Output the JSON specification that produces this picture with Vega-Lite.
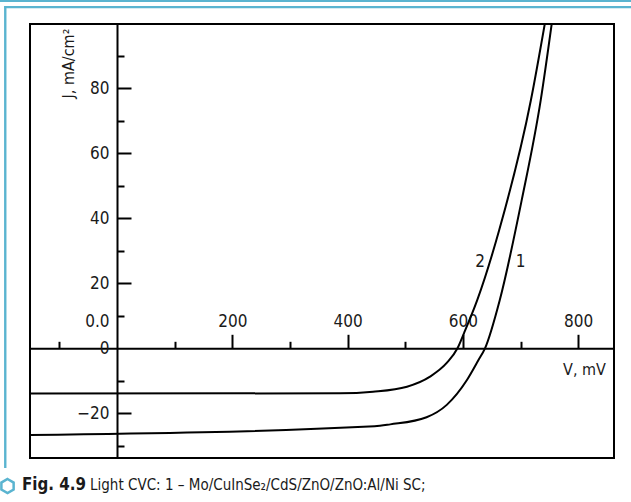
{
  "$schema": "https://vega.github.io/schema/vega-lite/v6.json",
  "autosize": "none",
  "width": 584,
  "height": 434,
  "padding": {"left": 30, "top": 24, "right": 17, "bottom": 44},
  "background": "#ffffff",
  "config": {
    "font": "'DejaVu Sans Condensed', Roboto, sans-serif",
    "view": {"stroke": "#000000", "strokeWidth": 2},
    "axis": {"labelFont": "'DejaVu Sans Condensed', Roboto, sans-serif", "titleFont": "'DejaVu Sans Condensed', Roboto, sans-serif", "labelColor": "#1a1a1a", "titleColor": "#1a1a1a", "grid": false},
    "text": {"font": "'DejaVu Sans Condensed', Roboto, sans-serif"}
  },
  "datasets": {
    "curves": [
      {"curve": "1", "V": -151, "J": -26.7},
      {"curve": "1", "V": 447, "J": -24.0},
      {"curve": "1", "V": 474, "J": -23.4},
      {"curve": "1", "V": 537, "J": -21.2},
      {"curve": "1", "V": 572, "J": -17.4},
      {"curve": "1", "V": 607, "J": -9.75},
      {"curve": "1", "V": 627, "J": -3.6},
      {"curve": "1", "V": 638.3, "J": 0},
      {"curve": "1", "V": 664, "J": 14.9},
      {"curve": "1", "V": 702, "J": 45.6},
      {"curve": "1", "V": 735, "J": 76.4},
      {"curve": "1", "V": 754, "J": 99.8},
      {"curve": "2", "V": -151, "J": -13.9},
      {"curve": "2", "V": 387, "J": -13.85},
      {"curve": "2", "V": 444, "J": -13.36},
      {"curve": "2", "V": 503, "J": -11.8},
      {"curve": "2", "V": 543, "J": -8.7},
      {"curve": "2", "V": 572, "J": -4.5},
      {"curve": "2", "V": 590.6, "J": 0},
      {"curve": "2", "V": 602, "J": 4.7},
      {"curve": "2", "V": 625, "J": 14.9},
      {"curve": "2", "V": 663, "J": 36.4},
      {"curve": "2", "V": 718, "J": 76.4},
      {"curve": "2", "V": 742, "J": 99.8}
    ],
    "labels": [
      {"label": "2", "V": 630, "J": 26.6},
      {"label": "1", "V": 700, "J": 26.6}
    ]
  },
  "resolve": {"axis": {"x": "independent", "y": "independent"}},
  "layer": [
    {
      "data": {"name": "curves"},
      "mark": {"type": "line", "color": "#000000", "strokeWidth": 2, "interpolate": "monotone", "clip": true},
      "encoding": {
        "x": {
          "field": "V", "type": "quantitative",
          "scale": {"domain": [-150.9, 862.1], "nice": false, "zero": false},
          "axis": {
            "orient": "top", "offset": -324.3,
            "values": [-100, 100, 200, 300, 400, 500, 600, 700, 800],
            "labelExpr": "datum.value % 200 === 0 ? datum.label : ''",
            "tickSize": {"condition": {"test": "datum.value % 200 === 0", "value": 14}, "value": 7},
            "tickWidth": 2, "tickColor": "#000000",
            "domainColor": "#000000", "domainWidth": 2,
            "labelPadding": 4, "labelFontSize": 17, "labelFlush": false, "labelOverlap": false,
            "title": "V, mV", "titleX": 554, "titleY": 25.7, "titleAlign": "center", "titleBaseline": "alphabetic",
            "titleFontWeight": "normal", "titleFontSize": 16, "titleAngle": 0
          }
        },
        "y": {
          "field": "J", "type": "quantitative",
          "scale": {"domain": [-33.75, 99.8], "nice": false, "zero": false},
          "axis": {
            "orient": "right", "offset": -497,
            "values": [-30, -20, -10, 10, 20, 30, 40, 50, 60, 70, 80, 90],
            "labels": false, "title": null,
            "tickSize": {"condition": {"test": "datum.value % 20 === 0", "value": 14}, "value": 7},
            "tickWidth": 2, "tickColor": "#000000",
            "domainColor": "#000000", "domainWidth": 2
          }
        },
        "detail": {"field": "curve", "type": "nominal"}
      }
    },
    {
      "data": {"name": "labels"},
      "mark": {"type": "text", "fontSize": 17, "color": "#1a1a1a", "baseline": "middle", "align": "center"},
      "encoding": {
        "x": {"field": "V", "type": "quantitative", "axis": null},
        "y": {
          "field": "J", "type": "quantitative",
          "axis": {
            "orient": "left", "offset": -87,
            "values": [-20, 0, 10, 20, 40, 60, 80],
            "labelExpr": "datum.value === 10 ? '0.0' : datum.label",
            "labelOffset": {"condition": {"test": "datum.value === 10", "value": 6}, "value": 0},
            "ticks": false, "domain": false,
            "labelPadding": 8, "labelFontSize": 17, "labelOverlap": false, "labelFlush": false,
            "title": "J, mA/cm²", "titleX": -44, "titleY": 39, "titleAngle": 270,
            "titleAlign": "center", "titleBaseline": "alphabetic", "titleFontWeight": "normal", "titleFontSize": 16
          }
        },
        "text": {"field": "label", "type": "nominal"}
      }
    },
    {
      "data": {"values": [{}]},
      "mark": {"type": "rule", "color": "#5ab4d0", "strokeWidth": 2.2},
      "encoding": {
        "x": {"datum": -205, "type": "quantitative", "axis": null},
        "x2": {"datum": 900},
        "y": {"datum": 106.9, "type": "quantitative", "axis": null}
      }
    },
    {
      "data": {"values": [{}]},
      "mark": {"type": "rule", "color": "#5ab4d0", "strokeWidth": 2.2},
      "encoding": {
        "x": {"datum": -195.8, "type": "quantitative", "axis": null},
        "x2": {"datum": 900},
        "y": {"datum": 105.0, "type": "quantitative", "axis": null}
      }
    },
    {
      "data": {"values": [{}]},
      "mark": {"type": "rule", "color": "#5ab4d0", "strokeWidth": 2.4},
      "encoding": {
        "x": {"datum": -193.8, "type": "quantitative", "axis": null},
        "y": {"datum": 105.3, "type": "quantitative", "axis": null},
        "y2": {"datum": -36.8}
      }
    },
    {
      "data": {"values": [{}]},
      "mark": {"type": "point", "shape": "M0,-1L0.866,-0.5L0.866,0.5L0,1L-0.866,0.5L-0.866,-0.5Z", "size": 200, "filled": false, "stroke": "#5ab4d0", "strokeWidth": 2.5, "opacity": 1},
      "encoding": {
        "x": {"datum": -189.9, "type": "quantitative", "axis": null},
        "y": {"datum": -42.4, "type": "quantitative", "axis": null}
      }
    },
    {
      "data": {"values": [{}]},
      "mark": {"type": "text", "align": "left", "baseline": "alphabetic", "fontWeight": "bold", "fontSize": 16.8, "color": "#1a1a1a"},
      "encoding": {
        "x": {"datum": -164.8, "type": "quantitative", "axis": null},
        "y": {"datum": -43.6, "type": "quantitative", "axis": null},
        "text": {"value": "Fig. 4.9"}
      }
    },
    {
      "data": {"values": [{}]},
      "mark": {"type": "text", "align": "left", "baseline": "alphabetic", "fontSize": 15, "color": "#1a1a1a"},
      "encoding": {
        "x": {"datum": -46.8, "type": "quantitative", "axis": null},
        "y": {"datum": -43.6, "type": "quantitative", "axis": null},
        "text": {"value": "Light CVC: 1 – Mo/CuInSe₂/CdS/ZnO/ZnO:Al/Ni SC;"}
      }
    }
  ]
}
